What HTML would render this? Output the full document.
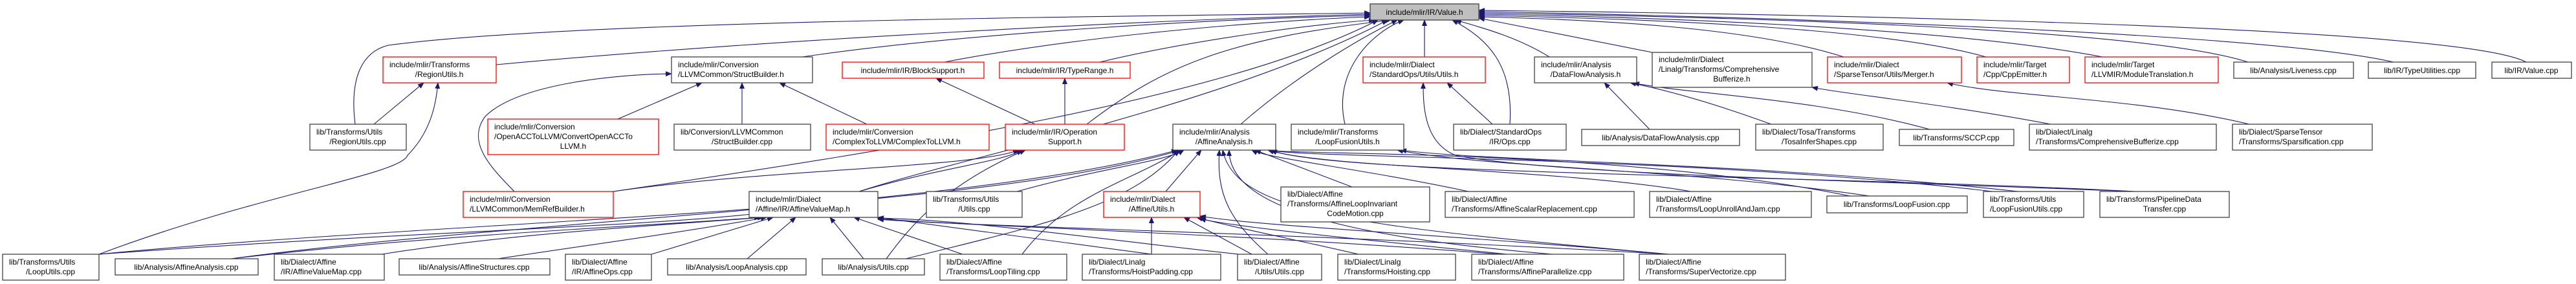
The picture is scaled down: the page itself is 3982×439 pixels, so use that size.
<!DOCTYPE html>
<html><head><meta charset="utf-8"><style>
html,body{margin:0;padding:0;background:#fff;}
svg{display:block;}
text{font-family:"Liberation Sans",sans-serif;font-size:12px;fill:#000;}
.n{fill:#fff;stroke:#404040;stroke-width:1.3;}
.r{fill:#fff;stroke:#ff0000;stroke-width:1.3;}
.e{fill:none;stroke:#191970;stroke-width:1.1;}
</style></head><body>
<svg width="3982" height="439" viewBox="0 0 3982 439" xmlns="http://www.w3.org/2000/svg">
<defs><marker id="a" markerWidth="10" markerHeight="8" refX="9" refY="4" orient="auto" markerUnits="userSpaceOnUse"><path d="M0,0 L10,4 L0,8 z" fill="#191970"/></marker></defs>
<g marker-end="url(#a)">
<!-- to Value.h left side -->
<path class="e" d="M549,192 C540,120 560,80 600,70 C900,30 1800,25 2118,20"/>
<path class="e" d="M767,100 C1200,60 1800,30 2118,22"/>
<path class="e" d="M1240,88 C1500,50 1900,28 2118,24"/>
<path class="e" d="M1460,96 C1700,50 2000,30 2118,26"/>
<path class="e" d="M1700,96 C1850,60 2050,35 2125,31"/>
<path class="e" d="M1680,192 C1800,100 1900,60 2150,31"/>
<path class="e" d="M1918,192 C2000,120 2100,60 2160,31"/>
<path class="e" d="M2079,192 C2060,110 2120,50 2170,31"/>
<path class="e" d="M1328,296 C1500,240 1900,160 2145,31"/>
<path class="e" d="M948,296 C1400,230 1900,150 2130,31"/>
<!-- center -->
<path class="e" d="M2202,88 L2202,31"/>
<path class="e" d="M2334,192 C2340,100 2300,60 2245,31"/>
<path class="e" d="M2395,88 C2350,60 2300,45 2250,31"/>
<!-- right side -->
<path class="e" d="M2554,81 C2450,60 2350,40 2286,28"/>
<path class="e" d="M2850,88 C2700,40 2450,30 2286,26"/>
<path class="e" d="M3070,88 C2900,40 2500,28 2286,24"/>
<path class="e" d="M3250,88 C3000,40 2500,25 2286,22"/>
<path class="e" d="M3475,96 C3300,40 2600,25 2286,20"/>
<path class="e" d="M3700,96 C3500,50 2700,25 2286,18"/>
<path class="e" d="M3905,96 C3800,40 2800,22 2286,16"/>
<!-- RegionUtils.h -->
<path class="e" d="M578,192 L655,128"/>
<path class="e" d="M153,393 C400,300 620,270 630,240 C670,200 675,150 677,128"/>
<!-- StructBuilder.h -->
<path class="e" d="M955,184 L1085,128"/>
<path class="e" d="M1147,192 L1147,128"/>
<path class="e" d="M1340,192 L1205,128"/>
<path class="e" d="M795,296 C760,260 720,220 750,180 C800,130 950,115 1038,114"/>
<!-- BlockSupport / TypeRange -->
<path class="e" d="M1600,192 L1447,121"/>
<path class="e" d="M1646,192 L1646,121"/>
<!-- OperationSupport.h -->
<path class="e" d="M1328,296 C1450,260 1550,250 1580,232"/>
<path class="e" d="M948,296 C1200,260 1500,260 1575,232"/>
<path class="e" d="M1370,400 C1400,360 1450,290 1585,232"/>
<!-- AffineAnalysis.h -->
<path class="e" d="M153,393 C700,340 1500,330 1825,232"/>
<path class="e" d="M357,400 C800,340 1500,320 1820,232"/>
<path class="e" d="M1572,296 C1700,260 1800,250 1830,232"/>
<path class="e" d="M1802,296 L1857,232"/>
<path class="e" d="M2090,289 L1940,232"/>
<path class="e" d="M2270,296 C2100,260 1960,245 1935,232"/>
<path class="e" d="M2860,303 C2500,230 2000,240 1960,232"/>
<path class="e" d="M3080,296 C2600,240 2000,245 1965,232"/>
<path class="e" d="M3300,296 C2800,270 2050,270 1965,232"/>
<path class="e" d="M2614,296 C2400,260 2050,260 1960,232"/>
<path class="e" d="M1580,393 C1650,300 1750,280 1825,232"/>
<path class="e" d="M1400,400 C1600,350 1750,320 1822,232"/>
<path class="e" d="M2400,393 C2000,360 1900,300 1900,232"/>
<path class="e" d="M2580,393 C2100,350 1910,330 1890,232"/>
<path class="e" d="M1960,393 C1900,340 1880,300 1885,232"/>
<!-- AffineValueMap.h -->
<path class="e" d="M153,393 C600,360 1000,350 1170,330"/>
<path class="e" d="M357,400 C700,360 1000,350 1175,336"/>
<path class="e" d="M590,393 C800,360 1000,350 1180,336"/>
<path class="e" d="M770,400 C900,380 1050,360 1185,336"/>
<path class="e" d="M1007,393 L1195,336"/>
<path class="e" d="M1155,400 L1230,336"/>
<path class="e" d="M1335,400 L1283,336"/>
<path class="e" d="M1488,393 L1320,336"/>
<path class="e" d="M1780,393 L1357,336"/>
<path class="e" d="M1915,393 C1700,370 1500,340 1357,337"/>
<path class="e" d="M2320,393 C1900,360 1500,350 1357,338"/>
<path class="e" d="M2580,393 C2000,360 1500,350 1357,339"/>
<!-- Affine/Utils.h -->
<path class="e" d="M1780,393 L1780,336"/>
<path class="e" d="M1935,393 L1830,336"/>
<path class="e" d="M2100,393 C2000,370 1900,350 1850,336"/>
<path class="e" d="M2330,393 C2100,370 1900,350 1855,338"/>
<path class="e" d="M2580,393 C2200,360 1950,350 1855,334"/>
<!-- StdOps Utils.h -->
<path class="e" d="M2307,192 L2237,128"/>
<path class="e" d="M3300,296 C2900,280 2400,270 2250,240 C2200,220 2200,160 2200,128"/>
<!-- LoopFusionUtils.h -->
<path class="e" d="M2890,303 C2600,260 2300,260 2160,232"/>
<path class="e" d="M3120,296 C2700,250 2300,250 2165,232"/>
<!-- DataFlowAnalysis.h -->
<path class="e" d="M2550,200 L2480,128"/>
<path class="e" d="M2738,192 C2650,160 2580,140 2520,128"/>
<path class="e" d="M2983,200 C2800,150 2600,145 2525,128"/>
<!-- ComprehensiveBufferize.h / Merger.h -->
<path class="e" d="M3170,192 C3000,160 2850,145 2801,135"/>
<path class="e" d="M3477,192 C3300,150 3100,150 3010,128"/>
</g>
<!-- nodes -->
<rect x="2118" y="6" width="168" height="25" fill="#bfbfbf" stroke="#404040" stroke-width="1.3"/><text x="2202" y="23" text-anchor="middle">include/mlir/IR/Value.h</text>
<rect class="r" x="592" y="88" width="175" height="40"/><text x="602" y="104">include/mlir/Transforms</text><text x="679" y="119" text-anchor="middle">/RegionUtils.h</text>
<rect class="n" x="479" y="192" width="149" height="40"/><text x="489" y="208">lib/Transforms/Utils</text><text x="553" y="223" text-anchor="middle">/RegionUtils.cpp</text>
<rect class="n" x="4" y="393" width="149" height="40"/><text x="14" y="409">lib/Transforms/Utils</text><text x="78" y="424" text-anchor="middle">/LoopUtils.cpp</text>
<rect class="n" x="178" y="400" width="221" height="25"/><text x="288" y="417" text-anchor="middle">lib/Analysis/AffineAnalysis.cpp</text>
<rect class="n" x="424" y="393" width="170" height="40"/><text x="434" y="409">lib/Dialect/Affine</text><text x="434" y="424">/IR/AffineValueMap.cpp</text>
<rect class="n" x="617" y="400" width="233" height="25"/><text x="733" y="417" text-anchor="middle">lib/Analysis/AffineStructures.cpp</text>
<rect class="n" x="1038" y="88" width="218" height="40"/><text x="1048" y="104">include/mlir/Conversion</text><text x="1048" y="119">/LLVMCommon/StructBuilder.h</text>
<rect class="r" x="754" y="184" width="264" height="55"/><text x="764" y="200">include/mlir/Conversion</text><text x="764" y="215">/OpenACCToLLVM/ConvertOpenACCTo</text><text x="886" y="230" text-anchor="middle">LLVM.h</text>
<rect class="n" x="1042" y="192" width="211" height="40"/><text x="1052" y="208">lib/Conversion/LLVMCommon</text><text x="1147" y="223" text-anchor="middle">/StructBuilder.cpp</text>
<rect class="r" x="1277" y="192" width="252" height="40"/><text x="1287" y="208">include/mlir/Conversion</text><text x="1287" y="223">/ComplexToLLVM/ComplexToLLVM.h</text>
<rect class="r" x="716" y="296" width="232" height="40"/><text x="726" y="312">include/mlir/Conversion</text><text x="726" y="327">/LLVMCommon/MemRefBuilder.h</text>
<rect class="n" x="1158" y="296" width="199" height="40"/><text x="1168" y="312">include/mlir/Dialect</text><text x="1168" y="327">/Affine/IR/AffineValueMap.h</text>
<rect class="n" x="874" y="393" width="133" height="40"/><text x="884" y="409">lib/Dialect/Affine</text><text x="884" y="424">/IR/AffineOps.cpp</text>
<rect class="n" x="1032" y="400" width="214" height="25"/><text x="1139" y="417" text-anchor="middle">lib/Analysis/LoopAnalysis.cpp</text>
<rect class="n" x="1271" y="400" width="158" height="25"/><text x="1350" y="417" text-anchor="middle">lib/Analysis/Utils.cpp</text>
<rect class="r" x="1302" y="96" width="219" height="25"/><text x="1411" y="113" text-anchor="middle">include/mlir/IR/BlockSupport.h</text>
<rect class="r" x="1545" y="96" width="202" height="25"/><text x="1646" y="113" text-anchor="middle">include/mlir/IR/TypeRange.h</text>
<rect class="r" x="1554" y="192" width="184" height="40"/><text x="1564" y="208">include/mlir/IR/Operation</text><text x="1646" y="223" text-anchor="middle">Support.h</text>
<rect class="n" x="1813" y="192" width="159" height="40"/><text x="1823" y="208">include/mlir/Analysis</text><text x="1892" y="223" text-anchor="middle">/AffineAnalysis.h</text>
<rect class="n" x="1432" y="296" width="148" height="40"/><text x="1442" y="312">lib/Transforms/Utils</text><text x="1506" y="327" text-anchor="middle">/Utils.cpp</text>
<rect class="r" x="1706" y="296" width="149" height="40"/><text x="1716" y="312">include/mlir/Dialect</text><text x="1780" y="327" text-anchor="middle">/Affine/Utils.h</text>
<rect class="n" x="1453" y="393" width="196" height="40"/><text x="1463" y="409">lib/Dialect/Affine</text><text x="1463" y="424">/Transforms/LoopTiling.cpp</text>
<rect class="n" x="1673" y="393" width="214" height="40"/><text x="1683" y="409">lib/Dialect/Linalg</text><text x="1683" y="424">/Transforms/HoistPadding.cpp</text>
<rect class="n" x="1913" y="393" width="130" height="40"/><text x="1923" y="409">lib/Dialect/Affine</text><text x="1978" y="424" text-anchor="middle">/Utils/Utils.cpp</text>
<rect class="n" x="1980" y="289" width="230" height="54"/><text x="1990" y="304">lib/Dialect/Affine</text><text x="1990" y="319">/Transforms/AffineLoopInvariant</text><text x="2095" y="334" text-anchor="middle">CodeMotion.cpp</text>
<rect class="r" x="2107" y="88" width="189" height="40"/><text x="2117" y="104">include/mlir/Dialect</text><text x="2117" y="119">/StandardOps/Utils/Utils.h</text>
<rect class="n" x="2372" y="88" width="158" height="40"/><text x="2382" y="104">include/mlir/Analysis</text><text x="2451" y="119" text-anchor="middle">/DataFlowAnalysis.h</text>
<rect class="n" x="2554" y="81" width="247" height="54"/><text x="2564" y="96">include/mlir/Dialect</text><text x="2564" y="111">/Linalg/Transforms/Comprehensive</text><text x="2677" y="126" text-anchor="middle">Bufferize.h</text>
<rect class="n" x="1996" y="192" width="174" height="40"/><text x="2006" y="208">include/mlir/Transforms</text><text x="2083" y="223" text-anchor="middle">/LoopFusionUtils.h</text>
<rect class="n" x="2247" y="192" width="174" height="40"/><text x="2257" y="208">lib/Dialect/StandardOps</text><text x="2334" y="223" text-anchor="middle">/IR/Ops.cpp</text>
<rect class="n" x="2445" y="200" width="244" height="25"/><text x="2567" y="217" text-anchor="middle">lib/Analysis/DataFlowAnalysis.cpp</text>
<rect class="n" x="2234" y="296" width="292" height="40"/><text x="2244" y="312">lib/Dialect/Affine</text><text x="2244" y="327">/Transforms/AffineScalarReplacement.cpp</text>
<rect class="n" x="2550" y="296" width="250" height="40"/><text x="2560" y="312">lib/Dialect/Affine</text><text x="2560" y="327">/Transforms/LoopUnrollAndJam.cpp</text>
<rect class="n" x="2068" y="393" width="182" height="40"/><text x="2078" y="409">lib/Dialect/Linalg</text><text x="2078" y="424">/Transforms/Hoisting.cpp</text>
<rect class="n" x="2275" y="393" width="235" height="40"/><text x="2285" y="409">lib/Dialect/Affine</text><text x="2285" y="424">/Transforms/AffineParallelize.cpp</text>
<rect class="n" x="2534" y="393" width="226" height="40"/><text x="2544" y="409">lib/Dialect/Affine</text><text x="2544" y="424">/Transforms/SuperVectorize.cpp</text>
<rect class="r" x="2825" y="88" width="207" height="40"/><text x="2835" y="104">include/mlir/Dialect</text><text x="2835" y="119">/SparseTensor/Utils/Merger.h</text>
<rect class="r" x="3056" y="88" width="143" height="40"/><text x="3066" y="104">include/mlir/Target</text><text x="3066" y="119">/Cpp/CppEmitter.h</text>
<rect class="r" x="3223" y="88" width="206" height="40"/><text x="3233" y="104">include/mlir/Target</text><text x="3233" y="119">/LLVMIR/ModuleTranslation.h</text>
<rect class="n" x="2714" y="192" width="197" height="40"/><text x="2724" y="208">lib/Dialect/Tosa/Transforms</text><text x="2812" y="223" text-anchor="middle">/TosaInferShapes.cpp</text>
<rect class="n" x="2936" y="200" width="177" height="25"/><text x="3024" y="217" text-anchor="middle">lib/Transforms/SCCP.cpp</text>
<rect class="n" x="3137" y="192" width="289" height="40"/><text x="3147" y="208">lib/Dialect/Linalg</text><text x="3147" y="223">/Transforms/ComprehensiveBufferize.cpp</text>
<rect class="n" x="2824" y="303" width="217" height="26"/><text x="2932" y="320" text-anchor="middle">lib/Transforms/LoopFusion.cpp</text>
<rect class="n" x="3066" y="296" width="155" height="40"/><text x="3076" y="312">lib/Transforms/Utils</text><text x="3076" y="327">/LoopFusionUtils.cpp</text>
<rect class="n" x="3246" y="296" width="200" height="40"/><text x="3256" y="312">lib/Transforms/PipelineData</text><text x="3346" y="327" text-anchor="middle">Transfer.cpp</text>
<rect class="n" x="3453" y="96" width="185" height="25"/><text x="3545" y="113" text-anchor="middle">lib/Analysis/Liveness.cpp</text>
<rect class="n" x="3661" y="96" width="166" height="25"/><text x="3744" y="113" text-anchor="middle">lib/IR/TypeUtilities.cpp</text>
<rect class="n" x="3852" y="96" width="123" height="25"/><text x="3913" y="113" text-anchor="middle">lib/IR/Value.cpp</text>
<rect class="n" x="3451" y="192" width="216" height="40"/><text x="3461" y="208">lib/Dialect/SparseTensor</text><text x="3461" y="223">/Transforms/Sparsification.cpp</text>
</svg>
</body></html>
